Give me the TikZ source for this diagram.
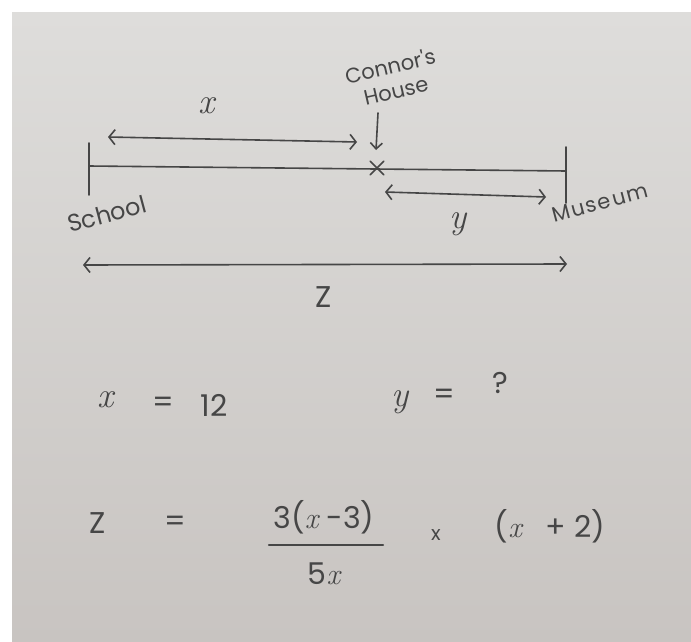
\documentclass[tikz,border=0pt]{standalone}
\usepackage{fontspec}
\newfontfamily\handfont{Poppins}
\usetikzlibrary{arrows.meta,shapes.misc}
\definecolor{paper}{RGB}{222,221,219}
\definecolor{paperlow}{RGB}{200,196,193}
\definecolor{pencil}{RGB}{70,70,70}
\newcommand{\varx}{{\rmfamily\itshape x}}

\begin{document}
\begin{tikzpicture}[x=1pt,y=-1pt,
  pen/.style={draw=pencil, line width=1.6pt, line cap=round},
  dist/.style={pen, {Straight Barb[length=6pt,width=15pt]}-{Straight Barb[length=6pt,width=15pt]}},
  place/.style={text=pencil, font=\handfont\fontsize{24}{24}\selectfont, inner sep=0pt},
  sym/.style={text=pencil, font=\handfont\fontsize{30}{30}\selectfont, inner sep=0pt},
  var/.style={text=pencil, font=\fontsize{36}{36}\selectfont\itshape, inner sep=0pt}]
  \useasboundingbox (0,0) rectangle (691,642);
  \fill[white] (0,0) rectangle (691,642);
  \shade[top color=paper, bottom color=paperlow] (12,13) rectangle (691,642);

  % road from school to museum
  \coordinate (schooltop) at (89,143);
  \coordinate (schoolbot) at (89,195);
  \coordinate (museumtop) at (566,147);
  \coordinate (museumbot) at (566,203);
  \coordinate (schoolmid) at (89,166);
  \coordinate (museummid) at (566,171);
  \draw[pen] (schooltop) -- (schoolbot);
  \draw[pen] (museumtop) -- (museumbot);
  \draw[pen] (schoolmid) -- (museummid);
  \node[pen, cross out, minimum size=12pt, inner sep=0pt] (house) at (377,168) {};

  \node[place, rotate=15] (school) at (107,214) {School};
  \node[place, rotate=15, font=\handfont\fontsize{21}{21}\selectfont\addfontfeature{LetterSpace=8}] (museum) at (600,203) {Museum};
  \node[place, rotate=13, align=center, font=\handfont\fontsize{21}{25}\selectfont] (connor) at (393,78) {Connor's\\House};
  \coordinate (pointer) at (378,113);
  \coordinate (pointed) at (376,150);
  \draw[pen, -{Straight Barb[length=6pt,width=12pt]}] (pointer) -- (pointed);

  % distances
  \coordinate (xl) at (108,137);
  \coordinate (xr) at (357,142);
  \draw[dist] (xl) -- (xr);
  \node[var] (xlab) at (207,106) {x};

  \coordinate (yl) at (385,192);
  \coordinate (yr) at (546,197);
  \draw[dist] (yl) -- (yr);
  \node[var] (ylab) at (458,224) {y};

  \coordinate (zl) at (83,265);
  \coordinate (zr) at (567,264);
  \draw[dist] (zl) -- (zr);
  \node[sym] (zlab) at (324,297) {Z};

  % what we know
  \node[var] (xsym) at (106,400) {x};
  \node[sym] (xeq) at (163,405) {=};
  \node[sym] (xval) at (214,405) {12};
  \node[var] (ysym) at (400,402) {y};
  \node[sym] (yeq) at (444,397) {=};
  \node[sym] (yval) at (500,383) {?};

  \node[sym] (zsym) at (98,523) {Z};
  \node[sym] (zeq) at (175,524) {=};
  \node[sym] (num) at (324,517) {3(\varx\ -3)};
  \node[sym] (den) at (324,574) {5\varx};
  \draw[pen, line width=2.2pt] (269,545) -- (383,545);
  \node[sym] (times) at (436,535) {\fontsize{20}{20}\selectfont x};
  \node[sym] (factor) at (550,526) {(\varx\ \ \ + 2)};
\end{tikzpicture}
\end{document}
